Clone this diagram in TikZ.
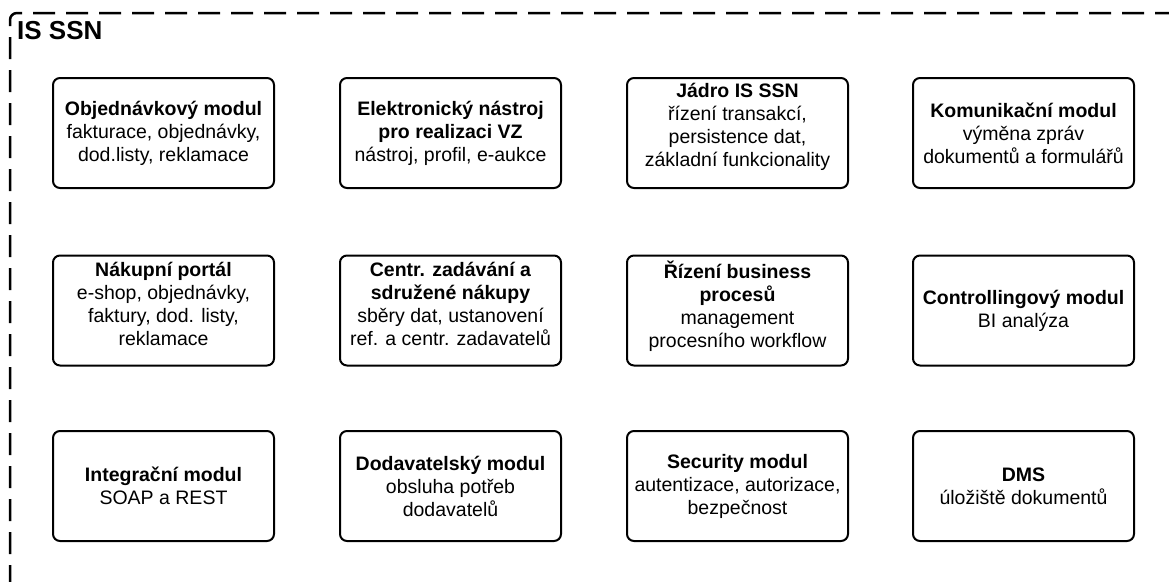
\documentclass[tikz,border=0pt]{standalone}
\usepackage{fontspec}
\setmainfont{Liberation Sans}

\tikzset{
  modul/.style={draw, line width=2pt, rounded corners=7pt, fill=white,
    minimum width=221pt, minimum height=110pt, inner sep=0pt, align=center,
    font=\fontsize{19.5}{23}\selectfont},
  vyssi/.style={text depth=#1},
  ramec/.style={line width=2.5pt, dash pattern=on 22pt off 11pt, rounded corners=7pt}
}

\begin{document}
\begin{tikzpicture}[x=1pt, y=-1pt]
    \useasboundingbox (0,0) rectangle (1169,581);
    \clip (0,0) rectangle (1169,581);
    %% Draw the frame
    \draw[ramec] (10,620) |- (1220,13);
    \node[anchor=base west, inner sep=0pt, font=\fontsize{26}{30}\selectfont\bfseries]
      (title) at (17,39.5) {IS SSN};
    %% Draw the first row
    \node[modul] (obj) at (163.5,133) {\textbf{Objednávkový modul}\\fakturace, objednávky,\\dod.listy, reklamace};
    \node[modul] (eln) at (450.5,133) {\textbf{Elektronický nástroj}\\\textbf{pro realizaci VZ}\\nástroj, profil, e-aukce};
    \node[modul, vyssi=17pt] (jad) at (737.5,133) {\textbf{Jádro IS SSN}\\řízení transakcí,\\persistence dat,\\základní funkcionality};
    \node[modul] (kom) at (1023.5,133) {\textbf{Komunikační modul}\\výměna zpráv\\dokumentů a formulářů};
    %% Draw the second row
    \node[modul, vyssi=13pt] (nak) at (163.5,310.5) {\textbf{Nákupní portál}\\e-shop, objednávky,\\faktury, dod. listy,\\reklamace};
    \node[modul, vyssi=13pt] (cen) at (450.5,310.5) {\textbf{Centr. zadávání a}\\\textbf{sdružené nákupy}\\sběry dat, ustanovení\\ref. a centr. zadavatelů};
    \node[modul, vyssi=13pt] (riz) at (737.5,310.5) {\textbf{Řízení business}\\\textbf{procesů}\\management\\procesního workflow};
    \node[modul] (con) at (1023.5,310.5) {\textbf{Controllingový modul}\\BI analýza};
    %% Draw the third row
    \node[modul] (int) at (163.5,486) {\textbf{Integrační modul}\\SOAP a REST};
    \node[modul] (dod) at (450.5,486) {\textbf{Dodavatelský modul}\\obsluha potřeb\\dodavatelů};
    \node[modul] (sec) at (737.5,486) {\textbf{Security modul}\\autentizace, autorizace,\\bezpečnost};
    \node[modul] (dms) at (1023.5,486) {\textbf{DMS}\\úložiště dokumentů};
  \end{tikzpicture}
\end{document}
